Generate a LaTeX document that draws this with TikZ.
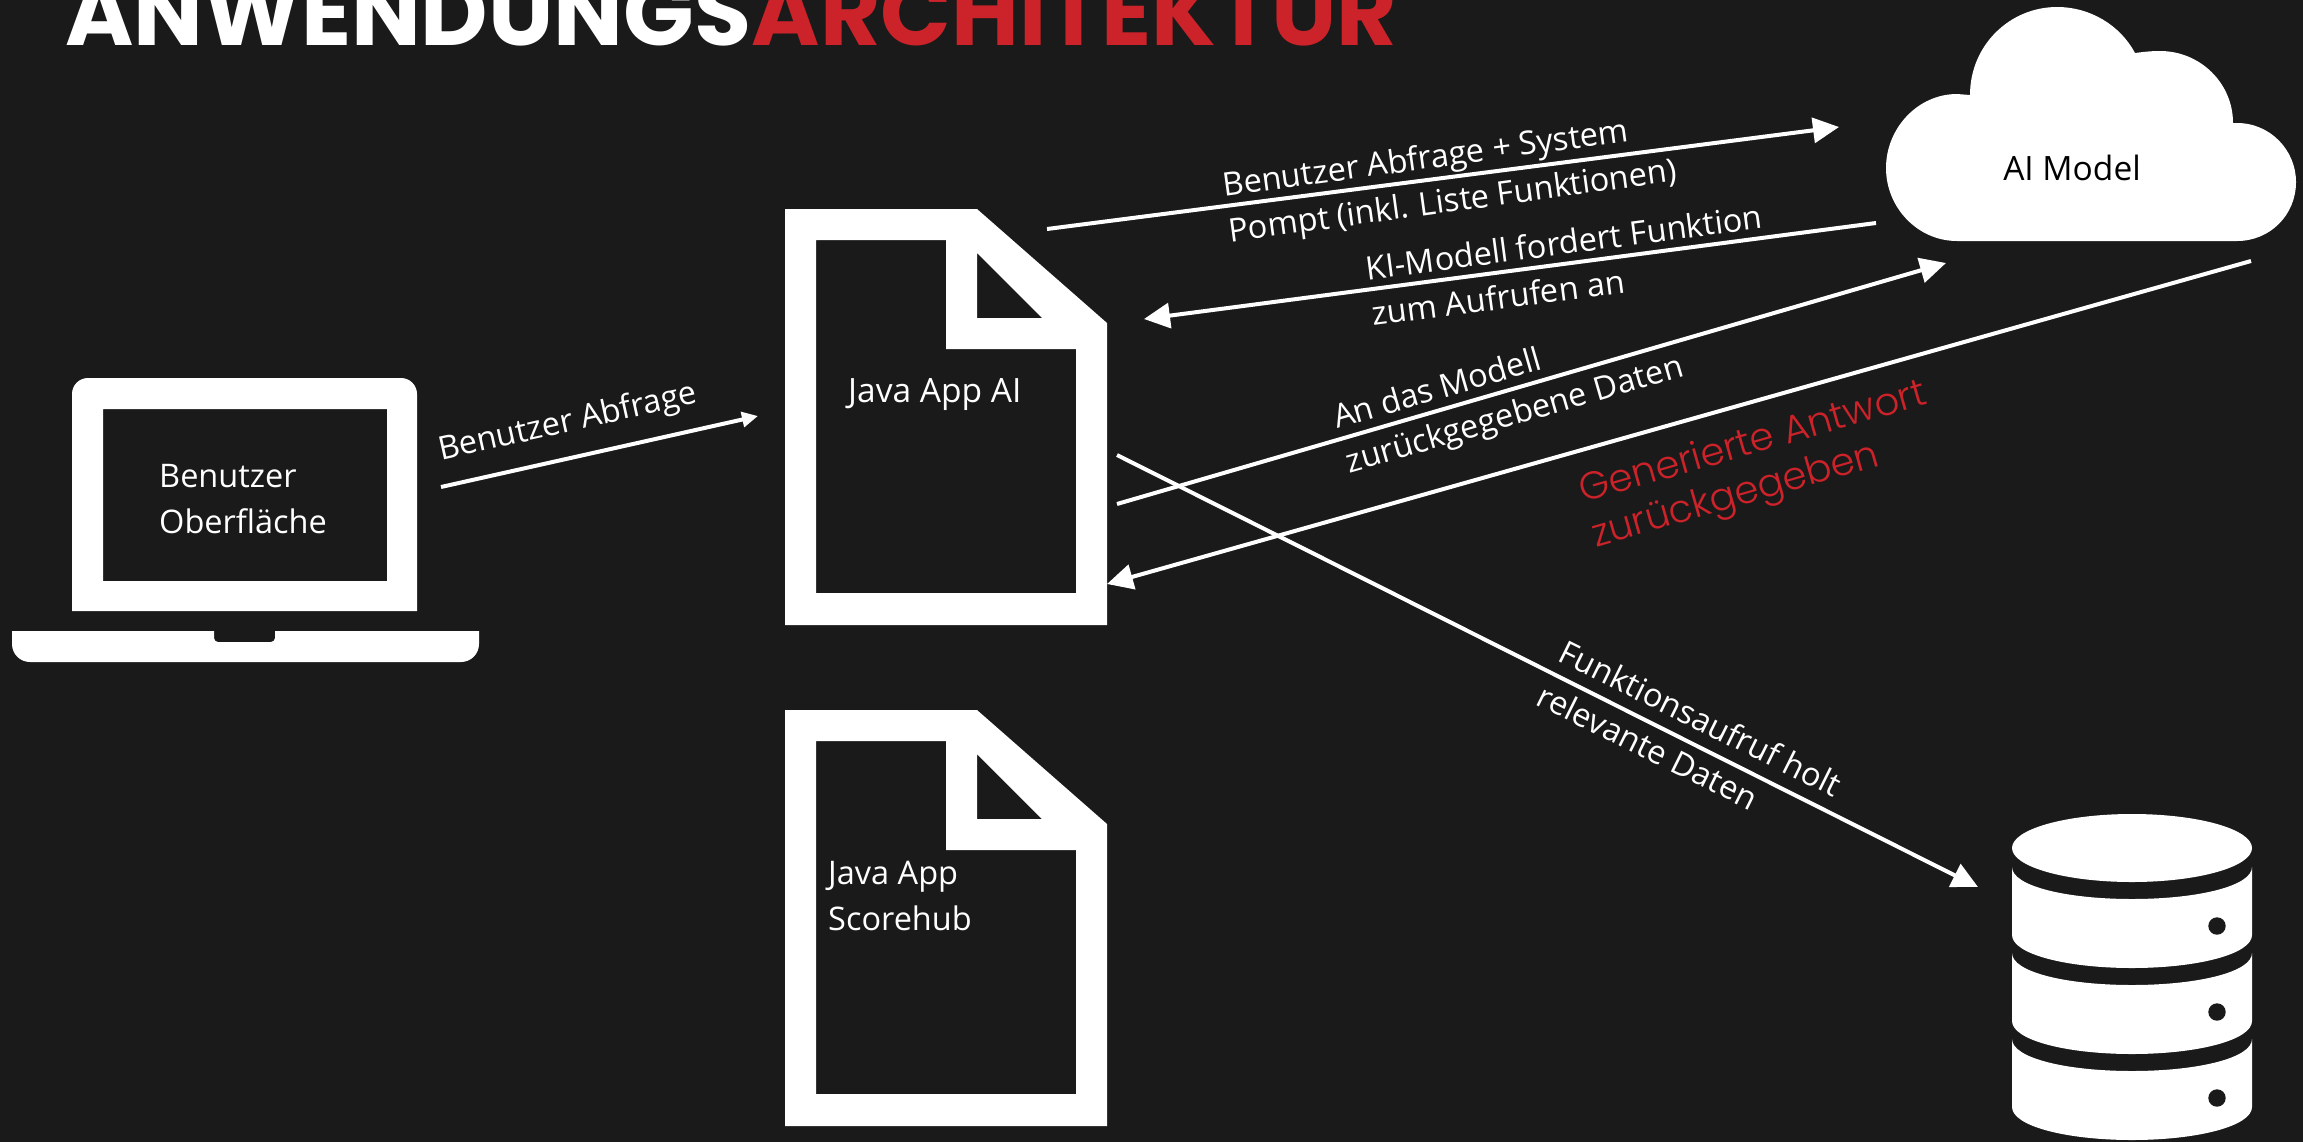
\documentclass[tikz,border=0pt]{standalone}
\usepackage{fontspec}
\setmainfont{Open Sans}
\newfontfamily\headfont{Poppins}
\newfontfamily\redfont{Poppins Light}
\usetikzlibrary{positioning,arrows.meta,calc}
\definecolor{bgdark}{HTML}{1A1A1A}
\definecolor{brandred}{HTML}{CC2229}

\begin{document}
\begin{tikzpicture}[
  x=1pt, y=-1pt,
  txt/.style={inner sep=0pt, text=white, align=left, font=\fontsize{32.5}{46}\selectfont},
  bigtxt/.style={txt, font=\fontsize{33.5}{46}\selectfont},
  redtxt/.style={txt, text=brandred, font=\redfont\fontsize{38.6}{46}\selectfont},
  headtxt/.style={inner sep=0pt, font=\headfont\bfseries\fontsize{92.8}{92}\selectfont},
  arr/.style={-{Triangle[length=26pt,width=25pt]}, line width=4pt, white},
  arrsmall/.style={arr, -{Triangle[length=16pt,width=15pt]}}
]

\useasboundingbox (0,0) rectangle (2303,1141);
\fill[bgdark] (-3,-3) rectangle (2306,1144);

% laptop
\fill[white, even odd rule] (72,611) [rounded corners=16pt] -- (72,378) -- (417,378) [sharp corners] -- (417,611) -- cycle
  (103,409) rectangle (387,581);
\fill[white] (12,631) -- (214,631) [rounded corners=4pt] -- (214,642) -- (275,642) [sharp corners] -- (275,631) -- (479,631)
  [rounded corners=18pt] -- (479,662) -- (12,662) [sharp corners] -- cycle;

% documents
\foreach \off in {0,501} {
  \begin{scope}[yshift=-\off pt]
    \fill[white, even odd rule] (785,209) -- (977,209) -- (1107,323) -- (1107,625) -- (785,625) -- cycle
      (816,240) -- (946,240) -- (946,349) -- (1076,349) -- (1076,593) -- (816,593) -- cycle
      (977,253) -- (1042,318) -- (977,318) -- cycle;
  \end{scope}
}

% cloud
\fill[white] (1957,241) .. controls (1918,241) and (1886,208) .. (1886,168)
  .. controls (1886,128) and (1918,94) .. (1957,94) -- (1970,95)
  .. controls (1970,45) and (2010,7) .. (2057,7)
  .. controls (2090,7) and (2120,25) .. (2135,53)
  .. controls (2143,52) and (2150,51) .. (2160,51)
  .. controls (2200,51) and (2233,83) .. (2233,123) -- (2237,123)
  .. controls (2270,123) and (2296,150) .. (2296,182)
  .. controls (2296,215) and (2270,241) .. (2237,241) -- cycle;

% database
\fill[white] (2132,848) ellipse [x radius=120, y radius=34];
\foreach \off in {0,86,172} {
  \begin{scope}[yshift=-\off pt]
    \fill[white] (2012,867) .. controls (2012,886) and (2066,899) .. (2132,899)
      .. controls (2198,899) and (2252,886) .. (2252,867) -- (2252,935)
      .. controls (2252,954) and (2198,968) .. (2132,968)
      .. controls (2066,968) and (2012,954) .. (2012,935) -- cycle;
    \fill[bgdark] (2217,926) circle [radius=8.7];
  \end{scope}
}

% nodes
\node[headtxt, text=white, anchor=base west] (titlea) at (65,45) {ANWENDUNGS};
\node[headtxt, text=brandred, anchor=base west] (titleb) at (titlea.base east) {ARCHITEKTUR};
\node[txt, anchor=west] (uilabel) at (159,499) {Benutzer\\Oberfläche};
\node[bigtxt, anchor=base west] (applabel) at (848,402) {Java App AI};
\node[txt, anchor=west] (hublabel) at (828,896) {Java App\\Scorehub};
\node[bigtxt, text=black, anchor=base] (modellabel) at (2072,180) {AI Model};
\node[txt, anchor=west, rotate=12.6] (querylabel) at (439,452) {Benutzer Abfrage};
\node[txt, anchor=west, rotate=7.8] (promptlabel) at (1226,211) {Benutzer Abfrage + System\\Pompt (inkl. Liste Funktionen)};
\node[txt, anchor=west, rotate=7.5] (calllabel) at (1369,291) {KI-Modell fordert Funktion\\zum Aufrufen an};
\node[txt, anchor=west, rotate=16.2] (datalabel) at (1341,443) {An das Modell\\zurückgegebene Daten};
\node[redtxt, anchor=west, rotate=16] (answerlabel) at (1587,516) {Generierte Antwort\\zurückgegeben};
\node[txt, anchor=west, rotate=-26.4] (fetchlabel) at (1551,671) {Funktionsaufruf holt\\[3pt]relevante Daten};

% arrow ends
\coordinate (querya) at (441,487);
\coordinate (queryb) at (758,416);
\coordinate (prompta) at (1047,229);
\coordinate (promptb) at (1839,127);
\coordinate (calla) at (1876,223);
\coordinate (callb) at (1144,319);
\coordinate (dataa) at (1117,504);
\coordinate (datab) at (1946,263);
\coordinate (answera) at (2251,261);
\coordinate (answerb) at (1107,584);
\coordinate (fetcha) at (1117,455);
\coordinate (fetchb) at (1978,887);

% arrows
\draw[arrsmall] (querya) -- (queryb);
\draw[arr] (prompta) -- (promptb);
\draw[arr] (calla) -- (callb);
\draw[arr] (dataa) -- (datab);
\draw[arr] (answera) -- (answerb);
\draw[arr] (fetcha) -- (fetchb);

\end{tikzpicture}
\end{document}
